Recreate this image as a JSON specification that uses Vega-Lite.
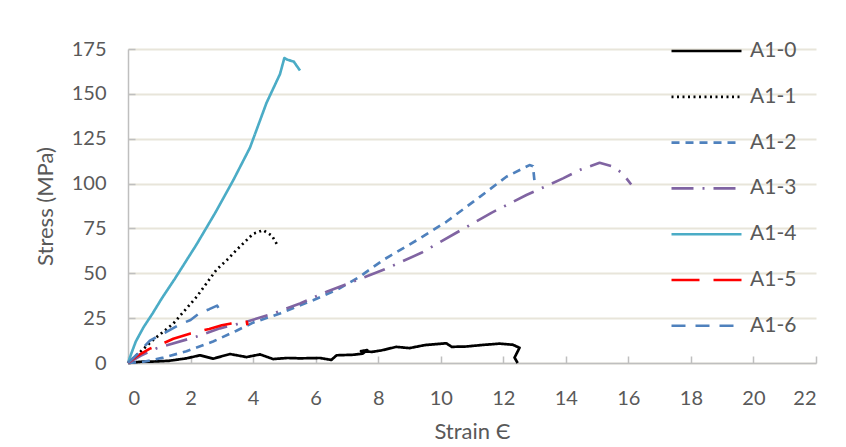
{
  "$schema": "https://vega.github.io/schema/vega-lite/v6.json",
  "width": 688,
  "height": 314,
  "autosize": {"type": "none"},
  "padding": {"left": 128, "top": 49, "right": 30, "bottom": 84},
  "background": "white",
  "config": {
    "font": "Lato",
    "view": {"stroke": null},
    "axis": {
      "labelFont": "Lato",
      "titleFont": "Lato",
      "labelColor": "#595959",
      "titleColor": "#595959",
      "labelFontSize": 20,
      "titleFontSize": 22,
      "titleFontWeight": "normal",
      "domainColor": "#BFBFBF",
      "domainWidth": 1.5,
      "tickColor": "#BFBFBF",
      "tickWidth": 1.5
    },
    "axisY": {"grid": true, "gridColor": "#E8E5DA", "gridWidth": 2},
    "legend": {
      "labelFont": "Lato",
      "labelFontSize": 21,
      "labelColor": "#595959"
    }
  },
  "data": {
    "values": [
      {"s": "A1-0", "i": 0, "x": 0, "y": 0},
      {"s": "A1-0", "i": 1, "x": 0.4, "y": 0.7},
      {"s": "A1-0", "i": 2, "x": 0.8, "y": 0.8},
      {"s": "A1-0", "i": 3, "x": 1.3, "y": 1.2},
      {"s": "A1-0", "i": 4, "x": 1.87, "y": 2.6},
      {"s": "A1-0", "i": 5, "x": 2.3, "y": 4.3},
      {"s": "A1-0", "i": 6, "x": 2.72, "y": 2.4},
      {"s": "A1-0", "i": 7, "x": 3.26, "y": 5},
      {"s": "A1-0", "i": 8, "x": 3.79, "y": 3.3},
      {"s": "A1-0", "i": 9, "x": 4.22, "y": 4.8},
      {"s": "A1-0", "i": 10, "x": 4.64, "y": 2.2},
      {"s": "A1-0", "i": 11, "x": 5.1, "y": 2.8},
      {"s": "A1-0", "i": 12, "x": 5.5, "y": 2.6},
      {"s": "A1-0", "i": 13, "x": 6.13, "y": 2.8},
      {"s": "A1-0", "i": 14, "x": 6.5, "y": 1.7},
      {"s": "A1-0", "i": 15, "x": 6.67, "y": 4.3},
      {"s": "A1-0", "i": 16, "x": 7.2, "y": 4.6},
      {"s": "A1-0", "i": 17, "x": 7.5, "y": 5.2},
      {"s": "A1-0", "i": 18, "x": 7.65, "y": 7.2},
      {"s": "A1-0", "i": 19, "x": 7.45, "y": 6.6},
      {"s": "A1-0", "i": 20, "x": 7.8, "y": 6.2},
      {"s": "A1-0", "i": 21, "x": 8.1, "y": 7},
      {"s": "A1-0", "i": 22, "x": 8.58, "y": 9},
      {"s": "A1-0", "i": 23, "x": 9.0, "y": 8.3},
      {"s": "A1-0", "i": 24, "x": 9.5, "y": 10},
      {"s": "A1-0", "i": 25, "x": 10.18, "y": 11},
      {"s": "A1-0", "i": 26, "x": 10.35, "y": 9},
      {"s": "A1-0", "i": 27, "x": 10.82, "y": 9.2},
      {"s": "A1-0", "i": 28, "x": 11.3, "y": 10},
      {"s": "A1-0", "i": 29, "x": 11.88, "y": 10.8},
      {"s": "A1-0", "i": 30, "x": 12.3, "y": 10.2},
      {"s": "A1-0", "i": 31, "x": 12.52, "y": 8.5},
      {"s": "A1-0", "i": 32, "x": 12.36, "y": 3},
      {"s": "A1-0", "i": 33, "x": 12.46, "y": 0},

      {"s": "A1-1", "i": 0, "x": 0, "y": 0},
      {"s": "A1-1", "i": 1, "x": 0.38, "y": 6},
      {"s": "A1-1", "i": 2, "x": 0.8, "y": 12.8},
      {"s": "A1-1", "i": 3, "x": 1.45, "y": 22},
      {"s": "A1-1", "i": 4, "x": 2.2, "y": 37},
      {"s": "A1-1", "i": 5, "x": 2.83, "y": 52},
      {"s": "A1-1", "i": 6, "x": 3.2, "y": 58},
      {"s": "A1-1", "i": 7, "x": 3.47, "y": 63},
      {"s": "A1-1", "i": 8, "x": 4.0, "y": 72},
      {"s": "A1-1", "i": 9, "x": 4.32, "y": 74},
      {"s": "A1-1", "i": 10, "x": 4.6, "y": 71},
      {"s": "A1-1", "i": 11, "x": 4.8, "y": 65},

      {"s": "A1-2", "i": 0, "x": 0, "y": 0},
      {"s": "A1-2", "i": 1, "x": 0.5, "y": 0.7},
      {"s": "A1-2", "i": 2, "x": 1.13, "y": 3},
      {"s": "A1-2", "i": 3, "x": 1.87, "y": 6.5},
      {"s": "A1-2", "i": 4, "x": 2.72, "y": 12},
      {"s": "A1-2", "i": 5, "x": 3.47, "y": 18},
      {"s": "A1-2", "i": 6, "x": 4.0, "y": 22.5},
      {"s": "A1-2", "i": 7, "x": 4.86, "y": 27.6},
      {"s": "A1-2", "i": 8, "x": 5.92, "y": 35},
      {"s": "A1-2", "i": 9, "x": 6.67, "y": 40.7},
      {"s": "A1-2", "i": 10, "x": 7.4, "y": 48},
      {"s": "A1-2", "i": 11, "x": 8.16, "y": 57.4},
      {"s": "A1-2", "i": 12, "x": 9.33, "y": 69.4},
      {"s": "A1-2", "i": 13, "x": 10.18, "y": 78.7},
      {"s": "A1-2", "i": 14, "x": 11.25, "y": 92.6},
      {"s": "A1-2", "i": 15, "x": 12.1, "y": 103.8},
      {"s": "A1-2", "i": 16, "x": 12.84, "y": 110.3},
      {"s": "A1-2", "i": 17, "x": 12.95, "y": 109.7},
      {"s": "A1-2", "i": 18, "x": 13.0, "y": 101},

      {"s": "A1-3", "i": 0, "x": 0, "y": 0},
      {"s": "A1-3", "i": 1, "x": 0.4, "y": 4},
      {"s": "A1-3", "i": 2, "x": 0.92, "y": 8.2},
      {"s": "A1-3", "i": 3, "x": 2.19, "y": 14.7},
      {"s": "A1-3", "i": 4, "x": 2.94, "y": 19.3},
      {"s": "A1-3", "i": 5, "x": 3.79, "y": 23},
      {"s": "A1-3", "i": 6, "x": 4.64, "y": 27.6},
      {"s": "A1-3", "i": 7, "x": 5.5, "y": 33.2},
      {"s": "A1-3", "i": 8, "x": 6.35, "y": 39.7},
      {"s": "A1-3", "i": 9, "x": 7.3, "y": 46},
      {"s": "A1-3", "i": 10, "x": 8.21, "y": 52.2},
      {"s": "A1-3", "i": 11, "x": 9.38, "y": 61.4},
      {"s": "A1-3", "i": 12, "x": 10.5, "y": 72.6},
      {"s": "A1-3", "i": 13, "x": 11.62, "y": 83.7},
      {"s": "A1-3", "i": 14, "x": 12.74, "y": 93.6},
      {"s": "A1-3", "i": 15, "x": 13.91, "y": 102.9},
      {"s": "A1-3", "i": 16, "x": 14.5, "y": 108},
      {"s": "A1-3", "i": 17, "x": 15.08, "y": 111.6},
      {"s": "A1-3", "i": 18, "x": 15.5, "y": 109.5},
      {"s": "A1-3", "i": 19, "x": 15.82, "y": 105.6},
      {"s": "A1-3", "i": 20, "x": 16.09, "y": 99.5},

      {"s": "A1-4", "i": 0, "x": 0, "y": 0},
      {"s": "A1-4", "i": 1, "x": 0.1, "y": 5},
      {"s": "A1-4", "i": 2, "x": 0.25, "y": 12},
      {"s": "A1-4", "i": 3, "x": 0.5, "y": 20},
      {"s": "A1-4", "i": 4, "x": 0.8, "y": 28},
      {"s": "A1-4", "i": 5, "x": 1.08, "y": 36},
      {"s": "A1-4", "i": 6, "x": 1.5, "y": 47},
      {"s": "A1-4", "i": 7, "x": 2.19, "y": 66},
      {"s": "A1-4", "i": 8, "x": 2.8, "y": 84},
      {"s": "A1-4", "i": 9, "x": 3.37, "y": 102},
      {"s": "A1-4", "i": 10, "x": 3.9, "y": 120},
      {"s": "A1-4", "i": 11, "x": 4.43, "y": 145},
      {"s": "A1-4", "i": 12, "x": 4.86, "y": 161},
      {"s": "A1-4", "i": 13, "x": 5.0, "y": 170},
      {"s": "A1-4", "i": 14, "x": 5.1, "y": 169},
      {"s": "A1-4", "i": 15, "x": 5.3, "y": 168},
      {"s": "A1-4", "i": 16, "x": 5.5, "y": 163},

      {"s": "A1-5", "i": 0, "x": 0, "y": 0},
      {"s": "A1-5", "i": 1, "x": 0.3, "y": 4},
      {"s": "A1-5", "i": 2, "x": 0.7, "y": 8},
      {"s": "A1-5", "i": 3, "x": 1.0, "y": 10},
      {"s": "A1-5", "i": 4, "x": 1.45, "y": 13.5},
      {"s": "A1-5", "i": 5, "x": 2.0, "y": 16.5},
      {"s": "A1-5", "i": 6, "x": 2.6, "y": 19},
      {"s": "A1-5", "i": 7, "x": 3.0, "y": 21},
      {"s": "A1-5", "i": 8, "x": 3.3, "y": 22},
      {"s": "A1-5", "i": 9, "x": 3.8, "y": 23},
      {"s": "A1-5", "i": 10, "x": 3.82, "y": 21},

      {"s": "A1-6", "i": 0, "x": 0, "y": 0},
      {"s": "A1-6", "i": 1, "x": 0.3, "y": 5},
      {"s": "A1-6", "i": 2, "x": 0.7, "y": 12.5},
      {"s": "A1-6", "i": 3, "x": 1.2, "y": 17},
      {"s": "A1-6", "i": 4, "x": 1.6, "y": 21},
      {"s": "A1-6", "i": 5, "x": 2.0, "y": 24},
      {"s": "A1-6", "i": 6, "x": 2.3, "y": 28},
      {"s": "A1-6", "i": 7, "x": 2.6, "y": 30},
      {"s": "A1-6", "i": 8, "x": 2.85, "y": 32},
      {"s": "A1-6", "i": 9, "x": 2.95, "y": 29}
    ]
  },
  "mark": {"type": "line", "strokeCap": "butt", "strokeJoin": "round"},
  "encoding": {
    "x": {
      "field": "x",
      "type": "quantitative",
      "scale": {"domain": [0, 22], "nice": false, "zero": false},
      "axis": {
        "title": "Strain Є",
        "values": [0, 2, 4, 6, 8, 10, 12, 14, 16, 18, 20, 22],
        "grid": false,
        "tickSize": -7,
        "labelPadding": 32,
        "titleY": 75,
        "titleBaseline": "alphabetic"
      }
    },
    "y": {
      "field": "y",
      "type": "quantitative",
      "scale": {"domain": [0, 175], "nice": false},
      "axis": {
        "title": "Stress (MPa)",
        "values": [0, 25, 50, 75, 100, 125, 150, 175],
        "tickSize": -7,
        "labelPadding": 29,
        "titleX": -71,
        "titleBaseline": "bottom"
      }
    },
    "color": {
      "field": "s",
      "type": "nominal",
      "scale": {
        "domain": ["A1-0", "A1-1", "A1-2", "A1-3", "A1-4", "A1-5", "A1-6"],
        "range": ["#000000", "#000000", "#4F81BD", "#8064A2", "#4BACC6", "#FF0000", "#4F81BD"]
      },
      "legend": {
        "title": null,
        "orient": "none",
        "legendX": 542,
        "legendY": -8,
        "padding": 0,
        "symbolSize": 4900,
        "symbolType": "stroke",
        "clipHeight": 20,
        "rowPadding": 24.8,
        "labelOffset": 7
      }
    },
    "strokeDash": {
      "field": "s",
      "type": "nominal",
      "scale": {
        "domain": ["A1-0", "A1-1", "A1-2", "A1-3", "A1-4", "A1-5", "A1-6"],
        "range": [[1, 0], [2, 3.5], [8, 6], [22, 9, 2, 9], [1, 0], [28, 14], [14, 10]]
      },
      "legend": {
        "title": null,
        "orient": "none",
        "legendX": 542,
        "legendY": -8,
        "padding": 0,
        "symbolSize": 4900,
        "symbolType": "stroke",
        "clipHeight": 20,
        "rowPadding": 24.8,
        "labelOffset": 7
      }
    },
    "strokeWidth": {
      "field": "s",
      "type": "nominal",
      "scale": {
        "domain": ["A1-0", "A1-1", "A1-2", "A1-3", "A1-4", "A1-5", "A1-6"],
        "range": [2.7, 2.6, 2.6, 2.6, 4.5, 4.6, 4.6]
      },
      "legend": {
        "title": null,
        "orient": "none",
        "legendX": 542,
        "legendY": -8,
        "padding": 0,
        "symbolSize": 4900,
        "symbolType": "stroke",
        "clipHeight": 20,
        "rowPadding": 24.8,
        "labelOffset": 7
      }
    },
    "order": {"field": "i", "type": "quantitative"}
  }
}
